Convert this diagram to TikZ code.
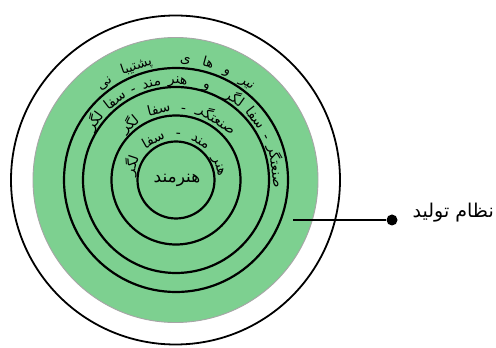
\documentclass[tikz,border=0pt]{standalone}
\usepackage{fontspec}
\usetikzlibrary{calc}
\TeXXeTstate=1
\newfontfamily\fa[Script=Arabic]{DejaVu Sans}
\definecolor{ringgreen}{RGB}{125,208,144}
\newcommand\ringfont{\fa\fontsize{14}{16}\selectfont}
\newcommand\topfont{\fa\fontsize{13.5}{16}\selectfont}
\newsavebox\atbox
\makeatletter
\newcommand\atmeasure[2]{%
  \pgfinterruptpicture
  \setbox\atbox\hbox{#1#2}%
  \xdef\atwd{\strip@pt\wd\atbox}%
  \endpgfinterruptpicture
}
\makeatother
\newcommand\arctext[6]{%
  \gdef\atW{0}\gdef\atN{0}%
  \foreach \ch in {#6}{%
    \atmeasure{#5}{\ch}%
    \pgfmathsetmacro\attmp{\atW+\atwd}\xdef\atW{\attmp}%
    \pgfmathsetmacro\attmp{\atN+1}\xdef\atN{\attmp}%
  }%
  \pgfmathsetmacro\attmp{((#4)-(#3))*pi/180*(#2)}%
  \pgfmathsetmacro\attmp{(\attmp-\atW)/(\atN-1)}\xdef\atGap{\attmp}%
  \gdef\atPos{0}%
  \foreach \ch in {#6}{%
    \atmeasure{#5}{\ch}%
    \pgfmathsetmacro\atMid{(#3)+(\atPos+\atwd/2)/(#2)*180/pi}%
    \node[arctxt, rotate=\atMid-90] at ($(#1)+(\atMid:#2pt)$) {#5\ch};%
    \pgfmathsetmacro\attmp{\atPos+\atwd+\atGap}\xdef\atPos{\attmp}%
  }%
}
\tikzset{
  arctxt/.style={anchor=base, inner sep=0pt, outer sep=0pt},
  ringc/.style={circle, draw=black, line width=2.2pt, inner sep=0pt, outer sep=0pt},
}
\begin{document}
\begin{tikzpicture}[x=1pt,y=1pt]
\fill[white] (0,0) rectangle (496,348);
\useasboundingbox (0,0) rectangle (496,348);
\coordinate (c0) at (175.5,168);
\coordinate (c) at (176,168);
\node[circle, draw=black, line width=1.8pt, fill=white, minimum size=329pt, inner sep=0pt, outer sep=0pt] (outer) at (c0) {};
\node[circle, draw=gray!70, line width=0.9pt, fill=ringgreen, minimum size=285pt, inner sep=0pt, outer sep=0pt] (green) at (c0) {};
\node[ringc, minimum size=224pt] (ring4) at (c) {};
\node[ringc, minimum size=186pt] (ring3) at (c) {};
\node[ringc, minimum size=129pt] (ring2) at (c) {};
\node[ringc, minimum size=77pt] (ring1) at (c) {};
\node[font=\fa\fontsize{17}{19}\selectfont, inner sep=0pt] (core) at (177,168) {هنرمند};
\arctext{c}{117}{50}{130}{\topfont}{نیر,و,ها,ی,{\kern4pt},پشتیبا,نی}
\arctext{c}{96}{-5}{150}{\ringfont}{صنعتگر,-,سفا,لگر,{\kern3pt},و,{\kern3pt},هنر,مند,-,سفا,لگر}
\arctext{c}{68}{38}{138}{\ringfont}{صنعتگر,-,سفا,لگر}
\arctext{c}{42}{5}{175}{\ringfont}{هنر,مند,-,سفا,لگر}
\coordinate (lstart) at (293,128);
\node[circle, fill=black, minimum size=11pt, inner sep=0pt] (dot) at (392,128) {};
\draw[line width=2.6pt] (lstart) -- (dot);
\node[anchor=east, font=\fa\fontsize{19}{21}\selectfont, inner sep=0pt] (label) at (494,135) {\beginR نظام تولید\endR};
\end{tikzpicture}
\end{document}
